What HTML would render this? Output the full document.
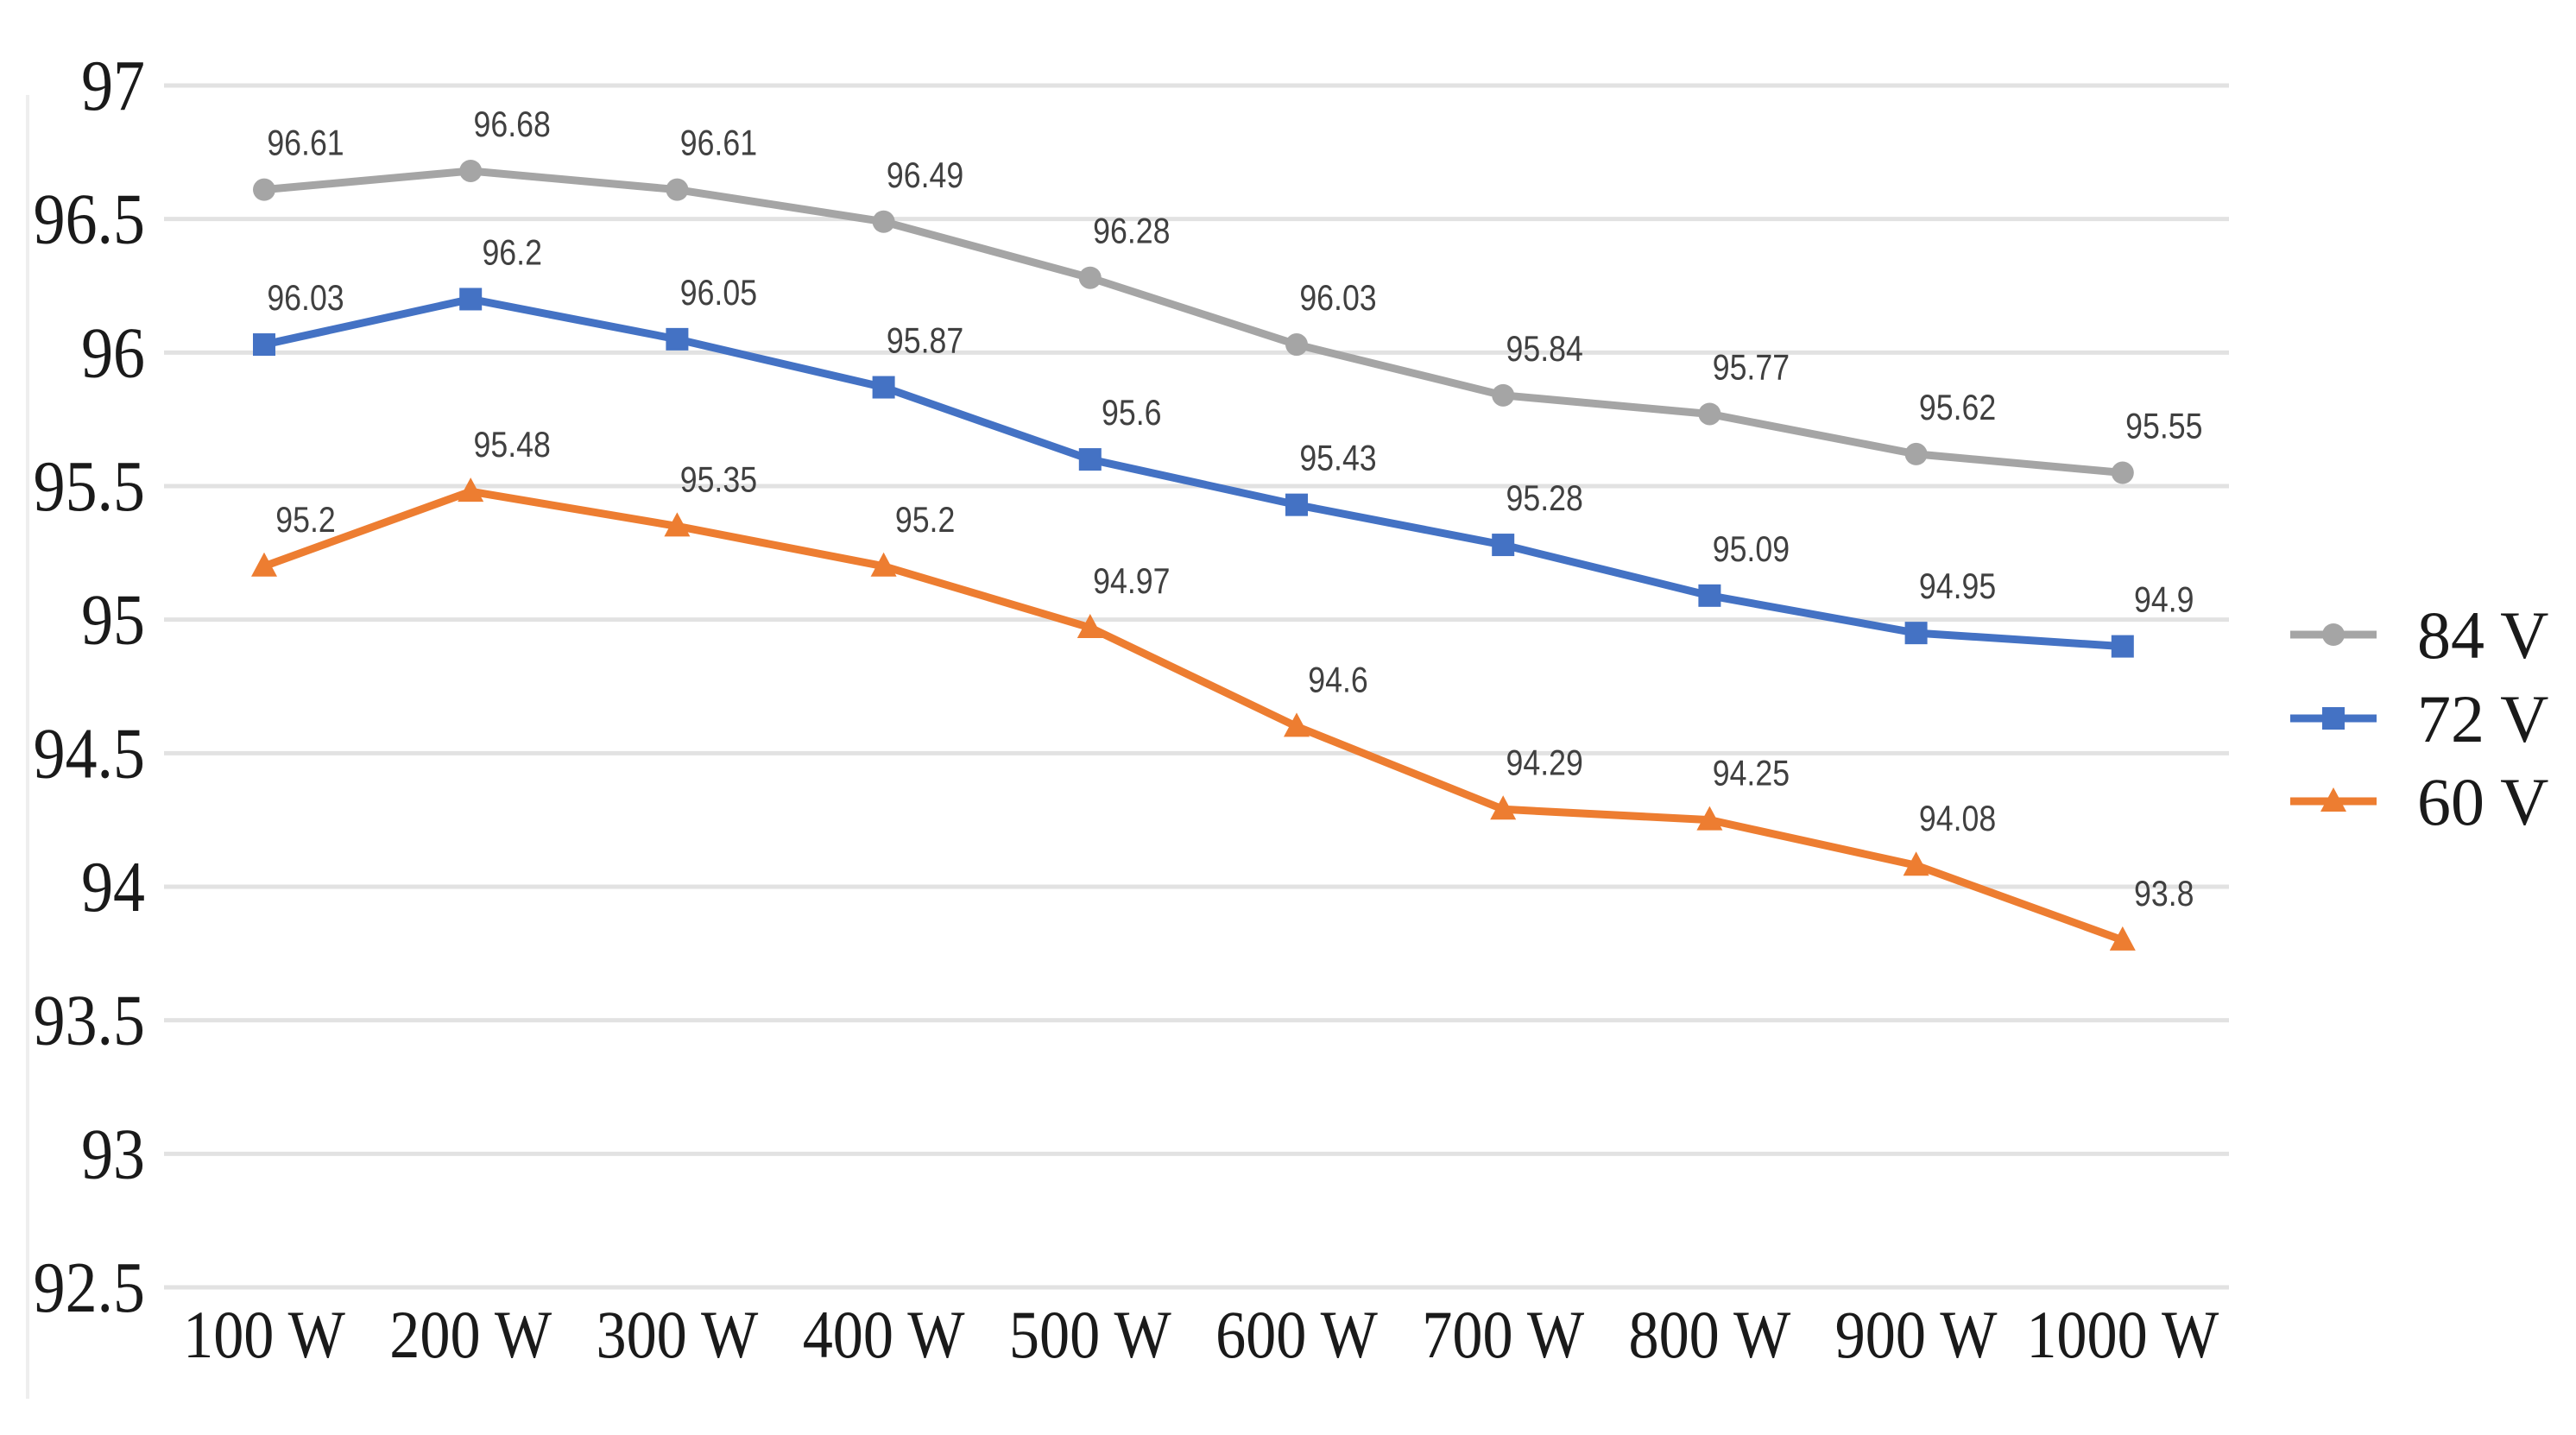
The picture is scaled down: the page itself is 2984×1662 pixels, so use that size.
<!DOCTYPE html>
<html><head><meta charset="utf-8"><style>
html,body{margin:0;padding:0;background:#fff;}
svg{display:block;}
.yt{font-family:"Liberation Serif",serif;font-size:84px;fill:#1a1a1a;}
.xt{font-family:"Liberation Serif",serif;font-size:78px;fill:#1a1a1a;}
.dl{font-family:"Liberation Sans",sans-serif;font-size:42px;fill:#404040;}
.lg{font-family:"Liberation Serif",serif;font-size:78px;fill:#1a1a1a;}
</style></head><body>
<svg id="chart" width="2984" height="1662" viewBox="0 0 2984 1662" xmlns="http://www.w3.org/2000/svg">
<line x1="32" y1="110" x2="32" y2="1620" stroke="#eeeeee" stroke-width="4"/>
<g id="grid"></g><g id="yticks"></g><g id="xticks"></g><g id="series"></g><g id="legend"></g>
</svg>
<script>
const categories = ["100 W","200 W","300 W","400 W","500 W","600 W","700 W","800 W","900 W","1000 W"];
const s84 = [96.61,96.68,96.61,96.49,96.28,96.03,95.84,95.77,95.62,95.55];
const s72 = [96.03,96.2,96.05,95.87,95.6,95.43,95.28,95.09,94.95,94.9];
const s60 = [95.2,95.48,95.35,95.2,94.97,94.6,94.29,94.25,94.08,93.8];
const yTicks = [92.5,93,93.5,94,94.5,95,95.5,96,96.5,97];
const seriesNames = ["84 V","72 V","60 V"];

const NS="http://www.w3.org/2000/svg";
const yMin=92.5,yMax=97,yTop=99,yBot=1491;
const xFirst=306,xStep=239.2,gx0=190,gx1=2582;
function y(v){return yBot-(v-yMin)/(yMax-yMin)*(yBot-yTop);}
function x(i){return xFirst+i*xStep;}
function mk(tag,attrs,parent,text){const e=document.createElementNS(NS,tag);for(const k in attrs)e.setAttribute(k,attrs[k]);if(text!==undefined)e.textContent=text;parent.appendChild(e);return e;}
const grid=document.getElementById('grid'),yt=document.getElementById('yticks'),xt=document.getElementById('xticks'),ser=document.getElementById('series'),leg=document.getElementById('legend');
yTicks.forEach(t=>{
  const l=mk('line',{x1:gx0,x2:gx1,y1:y(t),y2:y(t),stroke:'#e2e2e2','stroke-width':5},grid);
  
  
  const tx=mk('text',{x:168,y:y(t)+28,'text-anchor':'end',class:'yt',transform:`translate(168,0) scale(0.88,1) translate(-168,0)`},yt,String(t));
  
  
});
categories.forEach((c,i)=>{
  const cx=x(i);
  const tx=mk('text',{x:cx,y:1572,'text-anchor':'middle',class:'xt',transform:`translate(${cx},0) scale(0.9,1) translate(${-cx},0)`},xt,c);
  
  
});
const colors=["#a5a5a5","#4472c4","#ed7d31"];
const shapes=["circle","square","triangle"];
function marker(shape,cx,cy,col,parent){
  let m;
  if(shape==='circle')m=mk('circle',{cx:cx,cy:cy,r:13,fill:col},parent);
  else if(shape==='square')m=mk('rect',{x:cx-13,y:cy-13,width:26,height:26,fill:col},parent);
  else m=mk('polygon',{points:`${cx},${cy-16} ${cx+15},${cy+12} ${cx-15},${cy+12}`,fill:col},parent);
  return m;
}
[s84,s72,s60].forEach((data,si)=>{
  const g=mk('g',{},ser);
  
  
  const pts=data.map((v,i)=>x(i)+','+y(v)).join(' ');
  const pl=mk('polyline',{points:pts,fill:'none',stroke:colors[si],'stroke-width':9,'stroke-linejoin':'round'},g);
  
  
  data.forEach((v,i)=>{
    const m=marker(shapes[si],x(i),y(v),colors[si],g);
    
    
    const lx=x(i)+48,ly=y(v)-40;
    const t=mk('text',{x:lx,y:ly,'text-anchor':'middle',class:'dl',transform:`translate(${lx},0) scale(0.85,1) translate(${-lx},0)`},g,String(v));
    
    
  });
});
const legY=[735,832,928];
seriesNames.forEach((n,si)=>{
  const g=mk('g',{},leg);
  
  
  mk('line',{x1:2653,x2:2753,y1:legY[si],y2:legY[si],stroke:colors[si],'stroke-width':9},g);
  marker(shapes[si],2703,legY[si],colors[si],g);
  const t=mk('text',{x:2800,y:legY[si]+27,class:'lg'},g,n);
  
  
});
</script>
</body></html>
